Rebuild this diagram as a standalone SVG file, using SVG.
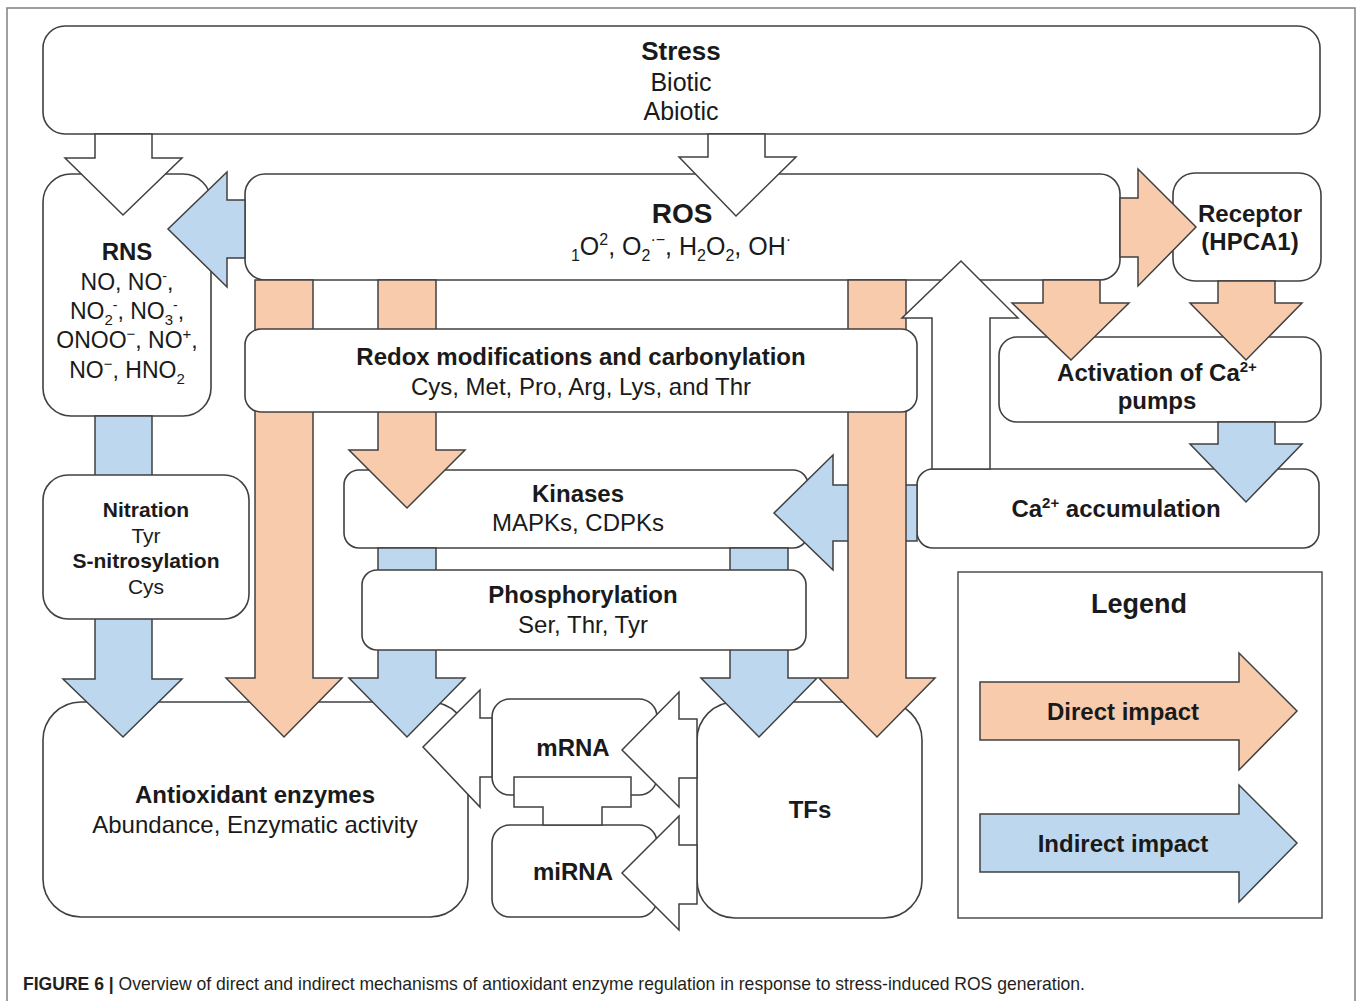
<svg xmlns="http://www.w3.org/2000/svg" width="1358" height="1001" viewBox="0 0 1358 1001">
<defs>
<style>
.box{fill:#fff;stroke:#404040;stroke-width:1.6}
.o{fill:#f8cbad;stroke:#404040;stroke-width:1.5}
.b{fill:#bdd7ee;stroke:#404040;stroke-width:1.5}
.w{fill:#fff;stroke:#404040;stroke-width:1.5}
text{font-family:"Liberation Sans",Arial,sans-serif;fill:#1a1a1a;text-anchor:middle;font-size:24px}
.bd{font-weight:bold}
</style>
</defs>
<rect x="0" y="0" width="1358" height="1001" fill="#fff"/>
<rect x="7" y="8" width="1348" height="1010" fill="none" stroke="#808080" stroke-width="1.5"/>

<g id="nodes-bottom">
<g id="stress"><rect class="box" x="43" y="26" width="1277" height="108" rx="22"/>
<text class="bd" x="681" y="60" style="font-size:26px">Stress</text>
<text x="681" y="91" style="font-size:25px">Biotic</text>
<text x="681" y="120" style="font-size:25px">Abiotic</text></g>
<g id="rns"><rect class="box" x="43" y="174" width="168" height="242" rx="28"/>
<text class="bd" x="127" y="260">RNS</text>
<text x="127" y="290" style="font-size:23px">NO, NO<tspan dy="-9" font-size="14">-</tspan><tspan dy="9">,</tspan></text>
<text x="127" y="319" style="font-size:23px">NO<tspan dy="6" font-size="15">2</tspan><tspan dy="-15" font-size="14">-</tspan><tspan dy="9">, NO</tspan><tspan dy="6" font-size="15">3</tspan><tspan dy="-15" font-size="14">-</tspan><tspan dy="9">,</tspan></text>
<text x="127" y="348" style="font-size:23px">ONOO<tspan dy="-9" font-size="15">−</tspan><tspan dy="9">, NO</tspan><tspan dy="-9" font-size="15">+</tspan><tspan dy="9">,</tspan></text>
<text x="127" y="378" style="font-size:23px">NO<tspan dy="-9" font-size="15">−</tspan><tspan dy="9">, HNO</tspan><tspan dy="6" font-size="15">2</tspan></text></g>
<g id="ros"><rect class="box" x="245" y="174" width="875" height="106" rx="20"/>
<text class="bd" x="682" y="223" style="font-size:28px">ROS</text>
<text x="681" y="255" style="font-size:25px"><tspan dy="6" font-size="16">1</tspan><tspan dy="-6">O</tspan><tspan dy="-10" font-size="16">2</tspan><tspan dy="10">, O</tspan><tspan dy="6" font-size="16">2</tspan><tspan dy="-16" font-size="16">·−</tspan><tspan dy="10">, H</tspan><tspan dy="6" font-size="16">2</tspan><tspan dy="-6">O</tspan><tspan dy="6" font-size="16">2</tspan><tspan dy="-6">, OH</tspan><tspan dy="-10" font-size="16">·</tspan></text></g>
<g id="receptor"><rect class="box" x="1173" y="173" width="148" height="108" rx="22"/>
<text class="bd" x="1250" y="222">Receptor</text>
<text class="bd" x="1250" y="250">(HPCA1)</text></g>
<g id="activation"><rect class="box" x="999" y="337" width="322" height="85" rx="18"/>
<text class="bd" x="1157" y="381">Activation of Ca<tspan dy="-9" font-size="15">2+</tspan></text>
<text class="bd" x="1157" y="409">pumps</text></g>
<g id="ca"><rect class="box" x="917" y="469" width="402" height="79" rx="16"/>
<text class="bd" x="1116" y="517">Ca<tspan dy="-9" font-size="15">2+</tspan><tspan dy="9"> accumulation</tspan></text></g>
<g id="kinases"><rect class="box" x="344" y="470" width="464" height="78" rx="15"/>
<text class="bd" x="578" y="502">Kinases</text>
<text x="578" y="531">MAPKs, CDPKs</text></g>
<g id="antioxidant"><rect class="box" x="43" y="702" width="425" height="215" rx="38"/>
<text class="bd" x="255" y="803">Antioxidant enzymes</text>
<text x="255" y="833">Abundance, Enzymatic activity</text></g>
<g id="tfs"><rect class="box" x="697" y="702" width="225" height="216" rx="38"/>
<text class="bd" x="810" y="818">TFs</text></g>
<g id="mrna"><rect class="box" x="492" y="699" width="165" height="96" rx="18"/>
<text class="bd" x="573" y="756">mRNA</text></g>
<g id="mirna"><rect class="box" x="492" y="825" width="165" height="92" rx="18"/>
<text class="bd" x="573" y="880">miRNA</text></g>
<g id="legend"><rect x="958" y="572" width="364" height="346" fill="#fff" stroke="#595959" stroke-width="1.6"/>
<text class="bd" x="1139" y="613" style="font-size:27px">Legend</text>
<polygon class="o" points="980,682 1239,682 1239,653 1297,711 1239,770 1239,740 980,740"/>
<text class="bd" x="1123" y="720">Direct impact</text>
<polygon class="b" points="980,814 1239,814 1239,785 1297,843 1239,902 1239,872 980,872"/>
<text class="bd" x="1123" y="852">Indirect impact</text></g>
</g>

<g id="connectors">
<polygon class="w" points="95,134 152,134 152,158 182,158 123,215 65,158 95,158"/>
<polygon class="w" points="708,134 765,134 765,157 796,157 736,216 679,157 708,157"/>
<polygon class="b" points="245,200 227,200 227,172 168,229 227,287 227,258 245,258"/>
<polygon class="o" points="1120,198 1138,198 1138,169 1196,227 1138,286 1138,257 1120,257"/>
<polygon class="o" points="1043,280 1100,280 1100,303 1129,303 1071,360 1012,303 1043,303"/>
<polygon class="o" points="1218,281 1275,281 1275,303 1302,303 1246,360 1190,303 1218,303"/>
<polygon class="b" points="1218,422 1275,422 1275,444 1302,444 1246,502 1190,444 1218,444"/>
<polygon class="b" points="917,485 833,485 833,455 774,513 833,570 833,541 917,541"/>
<polygon class="o" points="255,280 313,280 313,678 342,678 284,737 226,678 255,678"/>
<polygon class="o" points="378,280 436,280 436,450 465,450 407,508 349,450 378,450"/>
<polygon class="o" points="848,280 906,280 906,678 935,678 877,737 819,678 848,678"/>
<polygon class="w" points="932,469 932,318 902,318 961,261 1018,318 990,318 990,469"/>
<polygon class="b" points="95,416 152,416 152,679 182,679 123,737 63,679 95,679"/>
<polygon class="b" points="378,548 436,548 436,678 465,678 407,737 349,678 378,678"/>
<polygon class="b" points="730,548 788,548 788,678 817,678 759,737 701,678 730,678"/>
<polygon class="w" points="492,718 480,718 480,690 423,747 480,807 480,777 492,777"/>
<polygon class="w" points="697,719 679,719 679,692 622,750 679,807 679,778 697,778"/>
<polygon class="w" points="697,845 679,845 679,816 622,873 679,930 679,904 697,904"/>
<polygon class="w" points="514,777 631,777 631,807 602,807 602,825 543,825 543,807 514,807"/>
</g>

<g id="nodes-top">
<g id="redox"><rect class="box" x="245" y="329" width="672" height="83" rx="16"/>
<text class="bd" x="581" y="365">Redox modifications and carbonylation</text>
<text x="581" y="395">Cys, Met, Pro, Arg, Lys, and Thr</text></g>
<g id="phosphorylation"><rect class="box" x="362" y="570" width="444" height="80" rx="15"/>
<text class="bd" x="583" y="603">Phosphorylation</text>
<text x="583" y="633">Ser, Thr, Tyr</text></g>
<g id="nitration"><rect class="box" x="43" y="475" width="206" height="144" rx="25"/>
<text class="bd" x="146" y="517" style="font-size:21px">Nitration</text>
<text x="146" y="543" style="font-size:21px">Tyr</text>
<text class="bd" x="146" y="568" style="font-size:21px">S-nitrosylation</text>
<text x="146" y="594" style="font-size:21px">Cys</text></g>
</g>

<text x="23" y="990" textLength="1062" lengthAdjust="spacingAndGlyphs" style="font-size:18.5px;text-anchor:start;fill:#231f20"><tspan font-weight="bold">FIGURE 6 |</tspan> Overview of direct and indirect mechanisms of antioxidant enzyme regulation in response to stress-induced ROS generation.</text>
</svg>
